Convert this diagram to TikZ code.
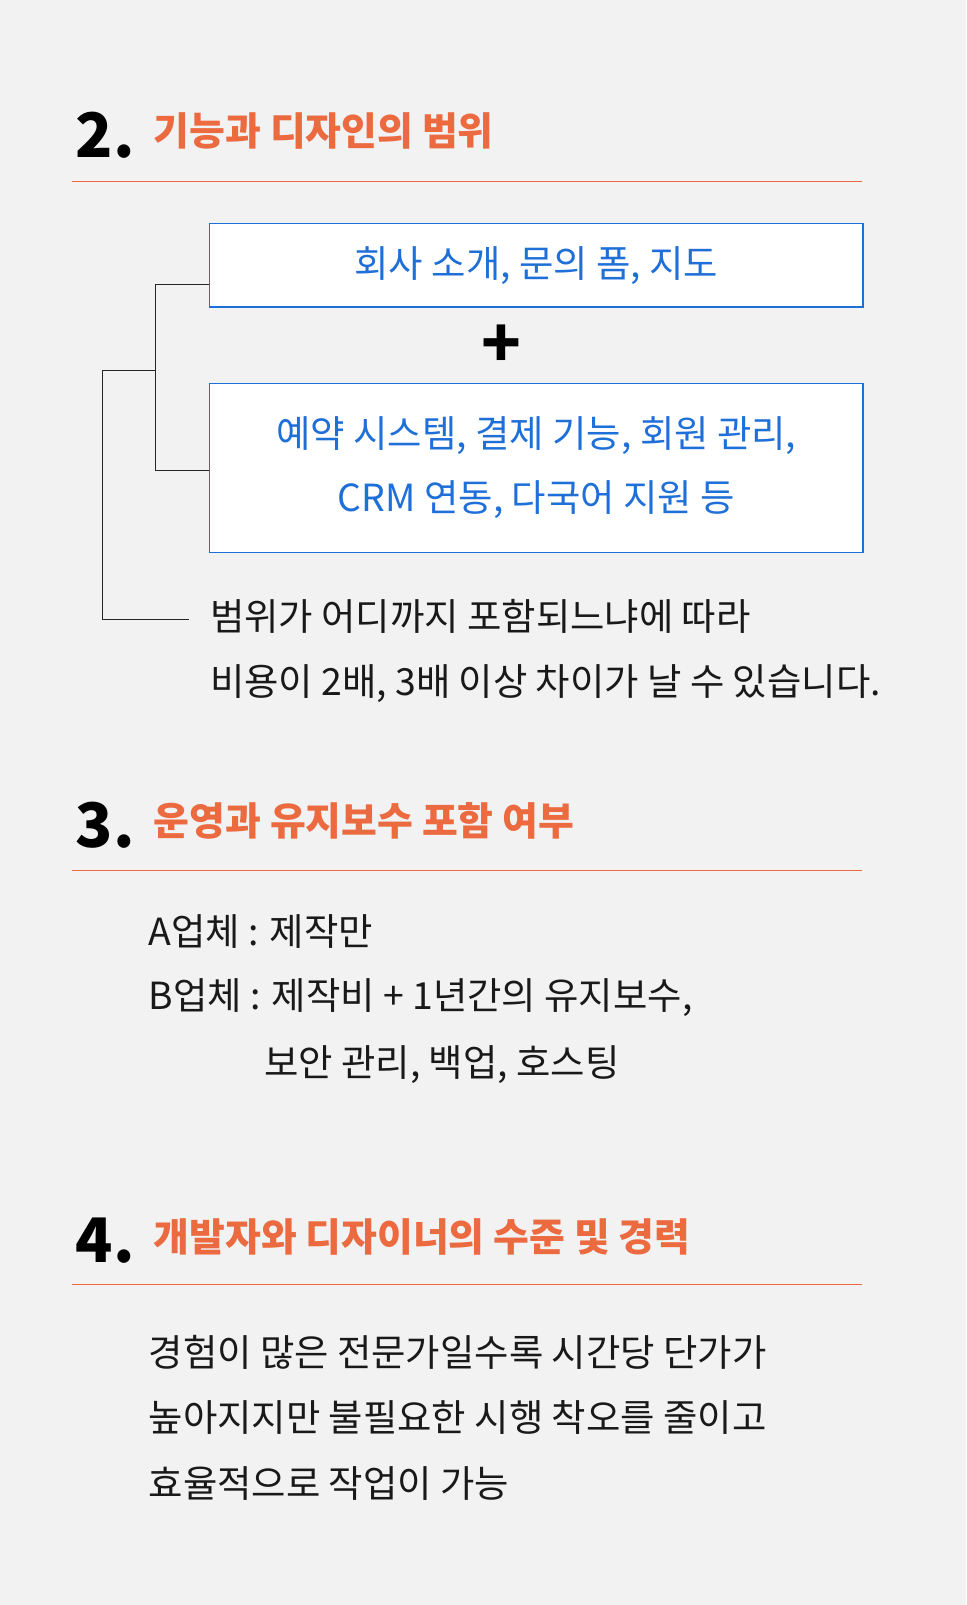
\documentclass[tikz,border=0pt]{standalone}
\usepackage{fontspec}
\setmainfont{Noto Sans CJK KR}
\usepackage{xcolor}
\usetikzlibrary{positioning}
\definecolor{accent}{HTML}{EC6A3F}
\definecolor{boxblue}{HTML}{1F6FD8}
\definecolor{bgray}{HTML}{F2F2F2}
\begin{document}
\begin{tikzpicture}[
    x=1pt, y=-1pt,
    num/.style={anchor=west, font=\fontsize{60}{60}\selectfont\bfseries, inner sep=0pt},
    head/.style={anchor=west, text=accent, font=\fontsize{38}{38}\selectfont\bfseries, inner sep=0pt},
    body/.style={anchor=west, align=left, font=\fontsize{36.5}{64}\selectfont, inner sep=0pt, text=black!90},
    bluebox/.style={draw=boxblue, line width=1.2pt, fill=white, text=boxblue, align=center, font=\fontsize{36.5}{62}\selectfont},
    rule/.style={draw=accent, line width=1pt},
    tree/.style={draw=black!85, line width=1pt}
]
\fill[bgray] (0,0) rectangle (944,1568);
\useasboundingbox (0,0) rectangle (944,1568);
% Section 2
\node[num] (n2) at (74,132) {2.};
\node[head] (h2) at (150,128) {기능과 디자인의 범위};
\draw[rule] (70,177) -- (842,177);
\node[bluebox, minimum width=638, minimum height=82] (basic) at (524,259) {회사 소개, 문의 폼, 지도};
\node[font=\fontsize{64}{64}\selectfont\bfseries] (plus) at (490,338) {+};
\node[bluebox, minimum width=638, minimum height=165] (extra) at (524,457) {예약 시스템, 결제 기능, 회원 관리,\\CRM 연동, 다국어 지원 등};
\node[body] (note2) at (205,636) {범위가 어디까지 포함되느냐에 따라\\비용이 2배, 3배 이상 차이가 날 수 있습니다.};
\coordinate (join) at (152,362);
\coordinate (tip) at (185,605);
\draw[tree] ([yshift=-19pt]basic.west) -| (join) |- ([yshift=-3pt]extra.west);
\draw[tree] (join) -- (100,362) |- (tip);
% Section 3
\node[num] (n3) at (74,806) {3.};
\node[head] (h3) at (150,802) {운영과 유지보수 포함 여부};
\draw[rule] (70,850) -- (842,850);
\node[body] (a3) at (145,910) {A업체 : 제작만};
\node[body] (b3) at (145,975) {B업체 : 제작비 + 1년간의 유지보수,};
\node[body] (c3) at (258,1040) {보안 관리, 백업, 호스팅};
% Section 4
\node[num] (n4) at (74,1212) {4.};
\node[head] (h4) at (150,1208) {개발자와 디자이너의 수준 및 경력};
\draw[rule] (70,1255) -- (842,1255);
\node[body] (note4) at (145,1385) {경험이 많은 전문가일수록 시간당 단가가\\높아지지만 불필요한 시행 착오를 줄이고\\효율적으로 작업이 가능};
\end{tikzpicture}
\end{document}
